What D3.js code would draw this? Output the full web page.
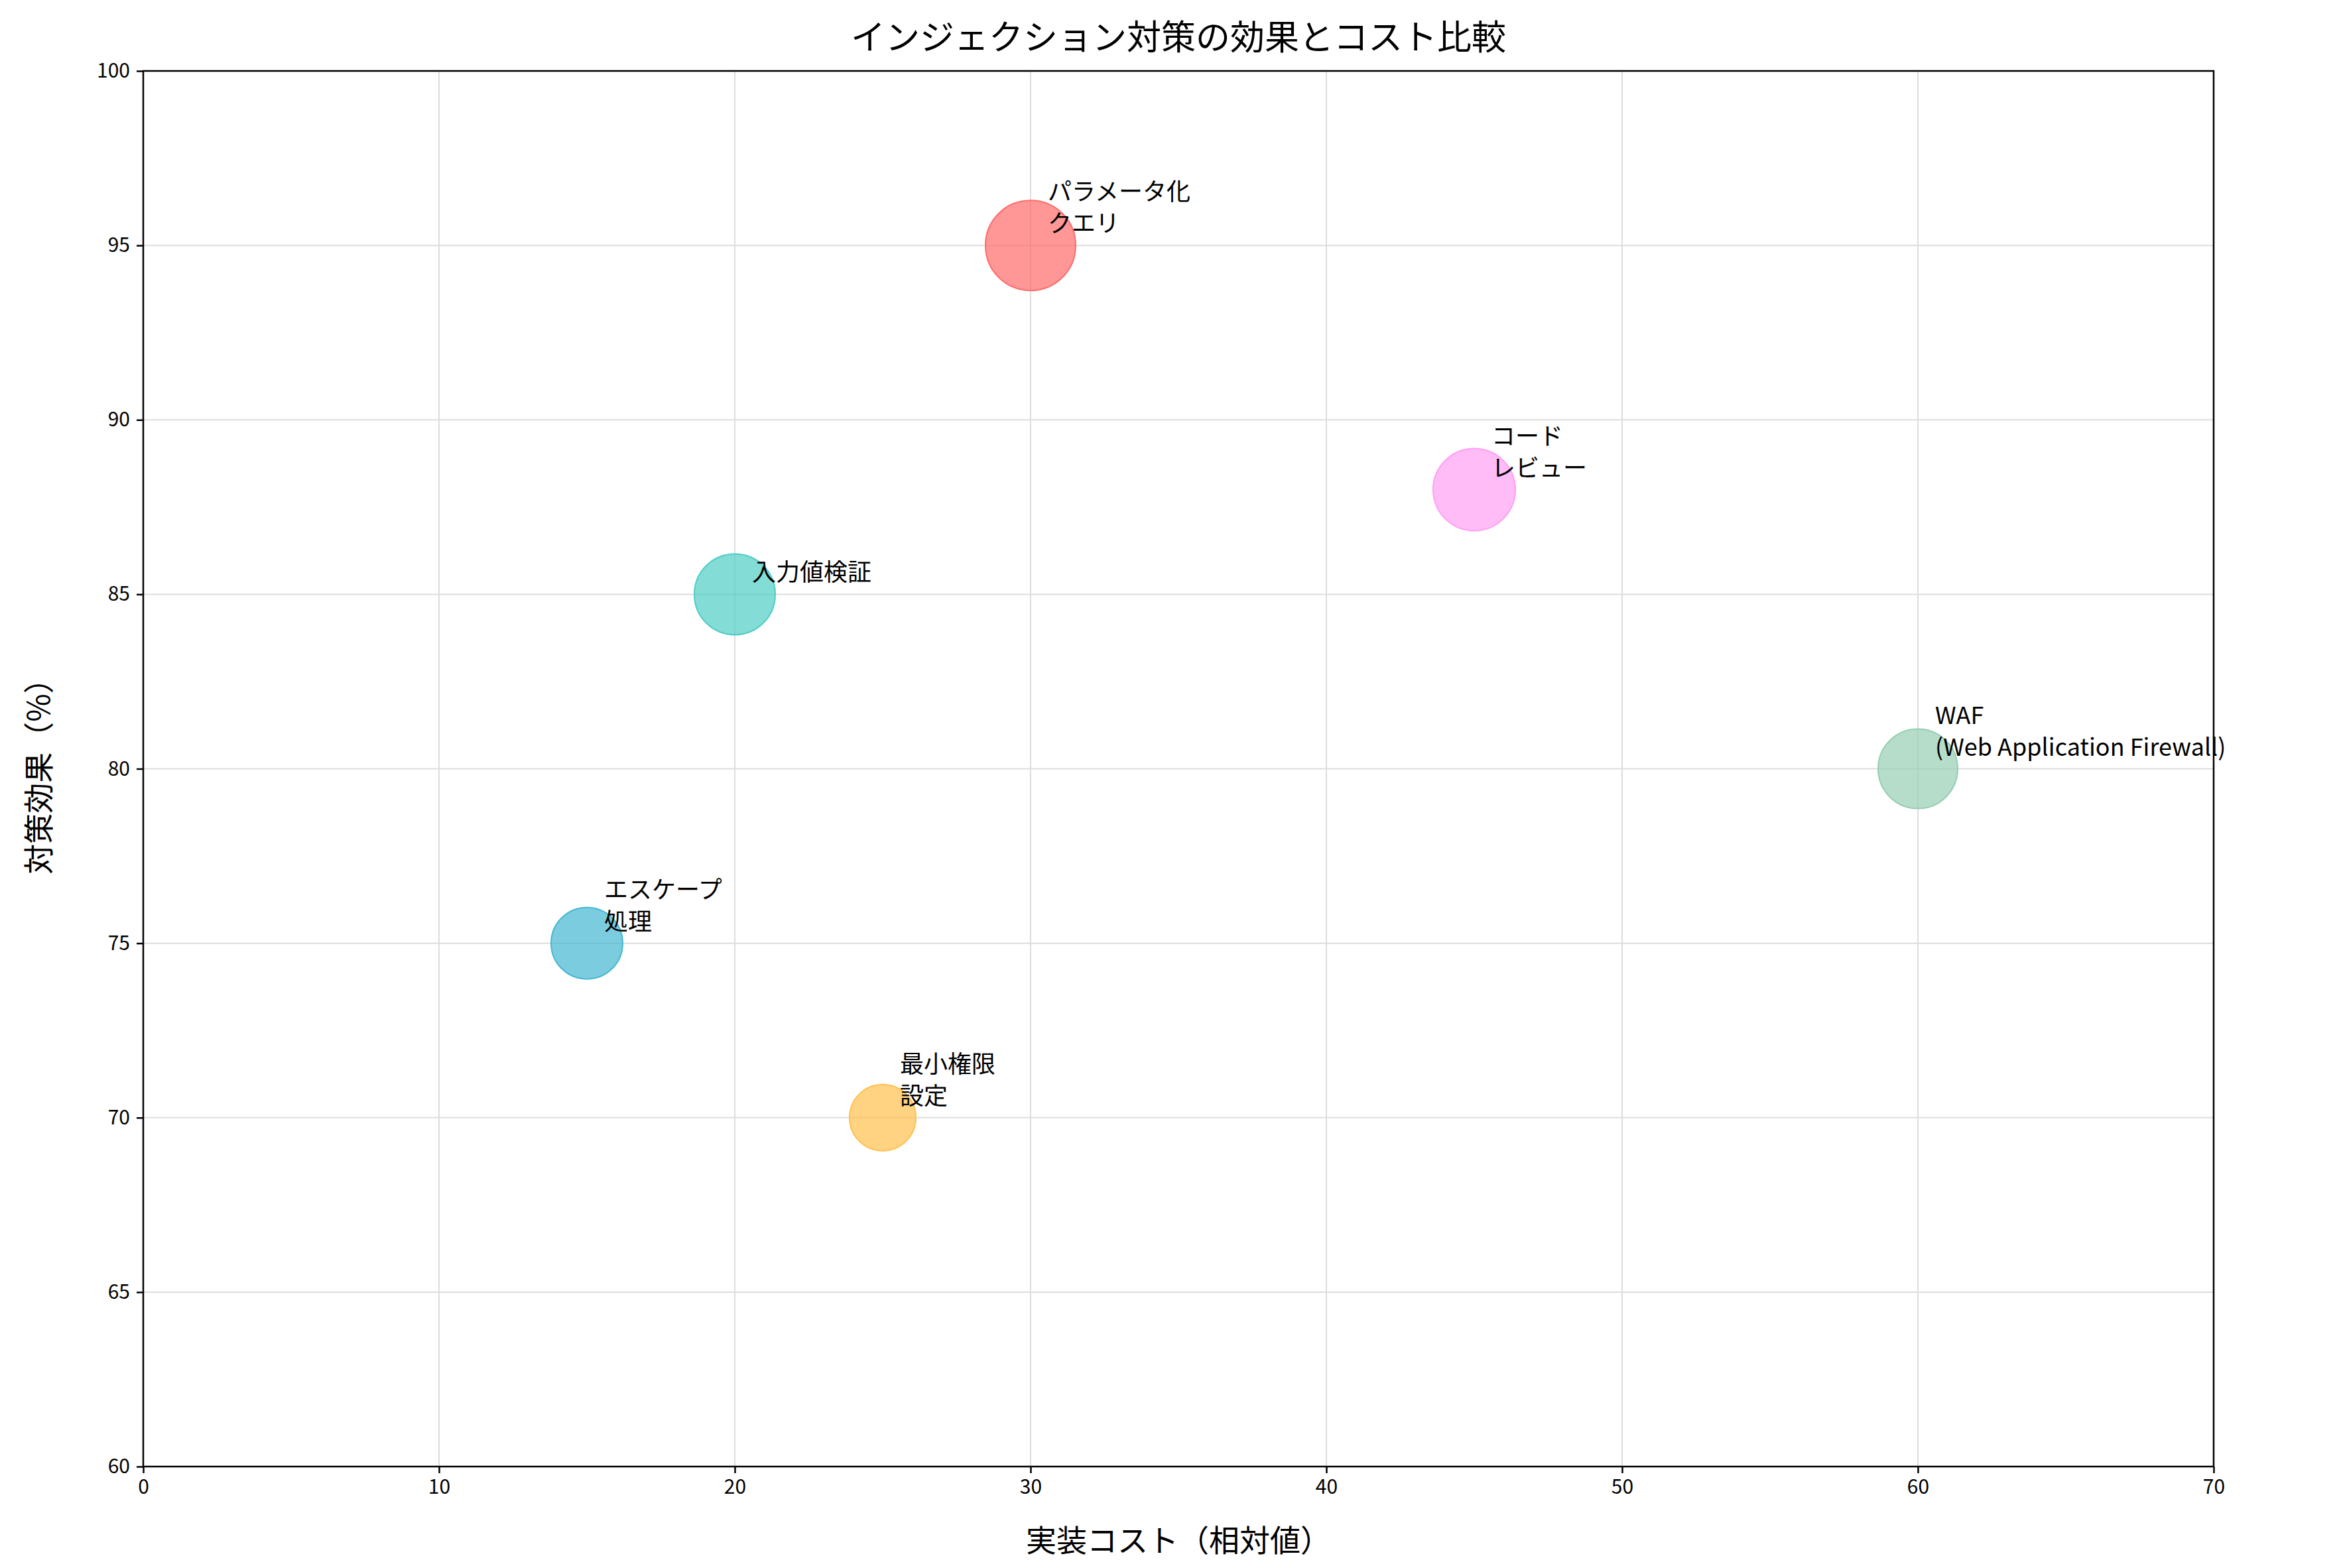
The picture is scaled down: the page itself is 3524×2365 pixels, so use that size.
<!DOCTYPE html>
<html><head><meta charset="utf-8">
<script src="https://cdn.jsdelivr.net/npm/d3@7"></script>
<style>body{margin:0;background:#fff}text{font-family:"Noto Sans CJK JP","Noto Sans",sans-serif}</style>
</head><body><svg id="c" width="3524" height="2365"></svg>
<script>
const names=["パラメータ化\nクエリ","入力値検証","エスケープ\n処理","最小権限\n設定","コード\nレビュー","WAF\n(Web Application Firewall)"];
const cost=[30,20,15,25,45,60];
const effect=[95,85,75,70,88,80];
const radius=[68,61,54,50,62,60];
const colors=["#FF6B6B","#4ECDC4","#45B7D1","#FFC04D","#FF9FF3","#96CEB4"];
const xTicks=[0,10,20,30,40,50,60,70];
const yTicks=[60,65,70,75,80,85,90,95,100];
const svg=d3.select("#c");
const L=216,R=3338,T=107,B=2212;
const x=d3.scaleLinear().domain([0,70]).range([L,R]);
const y=d3.scaleLinear().domain([60,100]).range([B,T]);
const g=svg.append("g");
g.selectAll(".gx").data(xTicks).join("line").attr("x1",d=>x(d)).attr("x2",d=>x(d)).attr("y1",T).attr("y2",B).attr("stroke","#ddd").attr("stroke-width",2);
g.selectAll(".gy").data(yTicks).join("line").attr("y1",d=>y(d)).attr("y2",d=>y(d)).attr("x1",L).attr("x2",R).attr("stroke","#ddd").attr("stroke-width",2);
const ax=svg.append("g").attr("transform",`translate(0,${B})`).call(d3.axisBottom(x).tickValues(xTicks).tickSize(10).tickPadding(10));
const ay=svg.append("g").attr("transform",`translate(${L},0)`).call(d3.axisLeft(y).tickValues(yTicks).tickSize(10).tickPadding(10));
[ax,ay].forEach(a=>{a.selectAll("text").attr("font-size",30).attr("fill","#000");a.selectAll("line,path").attr("stroke","#000").attr("stroke-width",2.5);a.select(".domain").remove();});
svg.append("rect").attr("x",L).attr("y",T).attr("width",R-L).attr("height",B-T).attr("fill","none").attr("stroke","#000").attr("stroke-width",2.5);
svg.selectAll(".b").data(names).join("circle").attr("cx",(d,i)=>x(cost[i])).attr("cy",(d,i)=>y(effect[i])).attr("r",(d,i)=>radius[i]).attr("fill",(d,i)=>colors[i]).attr("fill-opacity",0.7).attr("stroke",(d,i)=>colors[i]).attr("stroke-width",2);
names.forEach((n,i)=>{
  const lines=n.split("\n");
  const t=svg.append("text").attr("font-size",36).attr("x",x(cost[i])+26);
  lines.forEach((l,k)=>t.append("tspan").attr("x",x(cost[i])+26).attr("y",y(effect[i])-20-(lines.length-1-k)*48).text(l));
});
svg.append("text").attr("x",(L+R)/2).attr("y",75).attr("text-anchor","middle").attr("font-size",52).text("インジェクション対策の効果とコスト比較");
svg.append("text").attr("x",(L+R)/2).attr("y",2340).attr("text-anchor","middle").attr("font-size",46).text("実装コスト（相対値）");
svg.append("text").attr("transform",`translate(75,${(T+B)/2}) rotate(-90)`).attr("text-anchor","middle").attr("font-size",46).text("対策効果（%）");
</script></body></html>
